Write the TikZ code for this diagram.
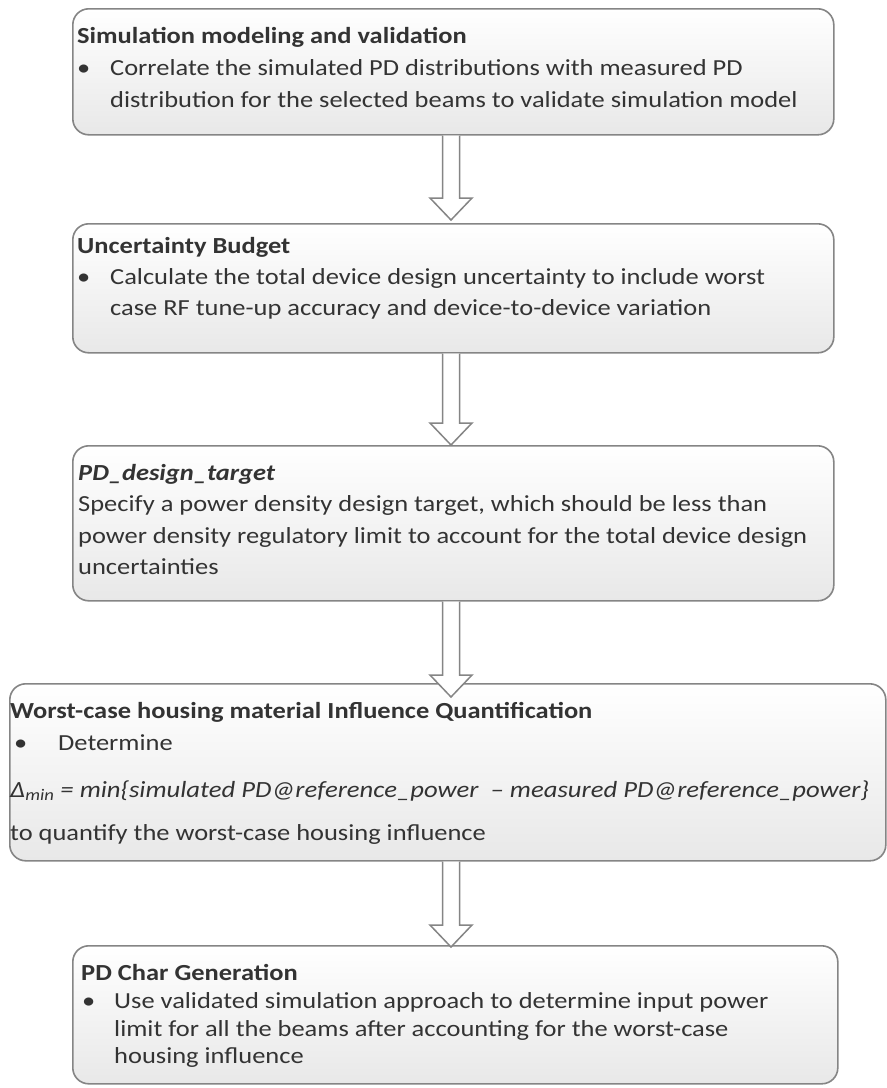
\documentclass[tikz,border=0pt]{standalone}
\usepackage{fontspec}
\setmainfont{Carlito}[FakeStretch=1.15]
\usetikzlibrary{calc}
\definecolor{txt}{HTML}{333333}
\definecolor{edge}{HTML}{858585}
\definecolor{shade}{HTML}{E8E8E8}
\tikzset{
  box/.style={draw=edge, line width=1.6pt, rounded corners=16pt, top color=white, bottom color=shade, anchor=north west, inner sep=0pt},
  ln/.style={anchor=base west, inner sep=0pt, text=txt, font=\fontsize{23}{28}\selectfont},
  hd/.style={ln, font=\fontsize{23}{28}\selectfont\bfseries},
  fm/.style={ln, font=\fontsize{23.2}{28}\selectfont\itshape},
  blk/.style={draw=edge, line width=1.5pt, fill=white, line join=miter},
}
\begin{document}
\begin{tikzpicture}[x=1pt,y=-1pt]
\useasboundingbox (0,0) rectangle (887,1088);
\fill[white] (0,0) rectangle (887,1088);
% boxes
\node[box, minimum width=761pt, minimum height=126pt] (b1) at (72,8) {};
\node[box, minimum width=761pt, minimum height=129pt] (b2) at (72,223) {};
\node[box, minimum width=761pt, minimum height=155pt] (b3) at (72,445) {};
\node[box, minimum width=876pt, minimum height=177pt] (b4) at (9,683) {};
\node[box, minimum width=765pt, minimum height=138pt] (b5) at (72,945) {};
% arrows
\coordinate (ax) at (451,0);
\foreach \a/\b/\o in {b1/b2/-3, b2/b3/0, b3/b4/14, b4/b5/2} {
  \draw[blk] ($(ax |- \a.south)+(-8.5,0)$) -- ($(ax |- \b.north)+(-8.5,\o-22)$) -- ++(-12.5,0)
    -- ($(ax |- \b.north)+(0,\o)$) -- ($(ax |- \b.north)+(21,\o-22)$) -- ++(-12.5,0)
    -- ($(ax |- \a.south)+(8.5,0)$);
}
% box 1
\node[hd] (t1) at (77,43) {Simulation modeling and validation};
\node[ln] (t1d) at (77,75) {\textbullet};
\node[ln] (t1a) at (110,75) {Correlate the simulated PD distributions with measured PD};
\node[ln] (t1b) at (110,107) {distribution for the selected beams to validate simulation model};
% box 2
\node[hd] (t2) at (77,253) {Uncertainty Budget};
\node[ln] (t2d) at (77,284) {\textbullet};
\node[ln] (t2a) at (110,284) {Calculate the total device design uncertainty to include worst};
\node[ln] (t2b) at (110,315) {case RF tune-up accuracy and device-to-device variation};
% box 3
\node[hd] (t3) at (78,480) {\itshape PD\_design\_target};
\node[ln] (t3a) at (78,511) {Specify a power density design target, which should be less than};
\node[ln] (t3b) at (78,543) {power density regulatory limit to account for the total device design};
\node[ln] (t3c) at (78,574) {uncertainties};
% box 4
\node[hd] (t4) at (10,718) {Worst-case housing material Influence Quantification};
\node[ln] (t4d) at (14,750) {\textbullet};
\node[ln] (t4a) at (58,750) {Determine};
\node[fm] (t4f) at (10,797) {Δ\textsubscript{min} = min\{simulated PD@reference\_power \ – measured PD@reference\_power\}};
\node[ln] (t4b) at (10,840) {to quantify the worst-case housing influence};
% box 5
\node[hd] (t5) at (81,980) {PD Char Generation};
\node[ln] (t5d) at (82,1008) {\textbullet};
\node[ln] (t5a) at (114,1008) {Use validated simulation approach to determine input power};
\node[ln] (t5b) at (114,1036) {limit for all the beams after accounting for the worst-case};
\node[ln] (t5c) at (114,1063) {housing influence};
\end{tikzpicture}
\end{document}
